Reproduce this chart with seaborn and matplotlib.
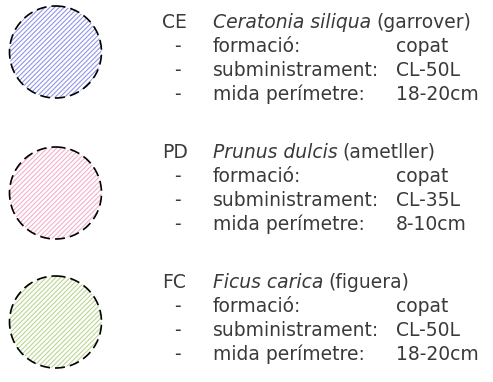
import matplotlib
matplotlib.use("Agg")
import matplotlib.pyplot as plt
from matplotlib.patches import Circle
import seaborn as sns

# species list data
codes = ["CE", "PD", "FC"]
species = ["Ceratonia siliqua", "Prunus dulcis", "Ficus carica"]
common_names = ["garrover", "ametller", "figuera"]
field_labels = ["formació:", "subministrament:", "mida perímetre:"]
formacio = ["copat", "copat", "copat"]
subministrament = ["CL-50L", "CL-35L", "CL-50L"]
perimetre = ["18-20cm", "8-10cm", "18-20cm"]
hatch_colors = ["#9296e8", "#f4b0cc", "#bad692"]

sns.set_theme(style="white")
plt.rcParams["font.family"] = ["DejaVu Sans"]
plt.rcParams["hatch.linewidth"] = 0.8

fig = plt.figure(figsize=(4.93, 3.82), dpi=100)
ax = fig.add_axes([0, 0, 1, 1])
ax.set_xlim(0, 493)
ax.set_ylim(382, 0)
ax.axis("off")

renderer = fig.canvas.get_renderer()
txt_color = "#3a3a3a"
fs = 13.5

circle_y = [52, 193, 322]
block_top = [28, 158, 288]
row_gap = 24

for i, code in enumerate(codes):
    # hatched circle with dashed outline
    fill = Circle((55.5, circle_y[i]), 46, facecolor="white",
                  edgecolor=hatch_colors[i], hatch="///////", linewidth=0)
    ax.add_patch(fill)
    edge = Circle((55.5, circle_y[i]), 46, facecolor="none",
                  edgecolor="black", linewidth=1.2, linestyle=(0, (6, 3)))
    ax.add_patch(edge)

    y0 = block_top[i]
    ax.text(162, y0, code, fontsize=fs, color=txt_color, va="baseline")
    t = ax.text(213, y0, species[i], fontsize=fs, color=txt_color,
                style="italic", va="baseline")
    bb = t.get_window_extent(renderer=renderer)
    x_end = ax.transData.inverted().transform((bb.x1, bb.y0))[0]
    ax.text(x_end + 5, y0, "(" + common_names[i] + ")", fontsize=fs,
            color=txt_color, va="baseline")

    values = [formacio[i], subministrament[i], perimetre[i]]
    for j, label in enumerate(field_labels):
        yy = y0 + row_gap * (j + 1)
        ax.text(174, yy, "-", fontsize=fs, color=txt_color, va="baseline")
        ax.text(213, yy, label, fontsize=fs, color=txt_color, va="baseline")
        ax.text(396, yy, values[j], fontsize=fs, color=txt_color, va="baseline")

fig.savefig("out.png", dpi=100, facecolor="white")
